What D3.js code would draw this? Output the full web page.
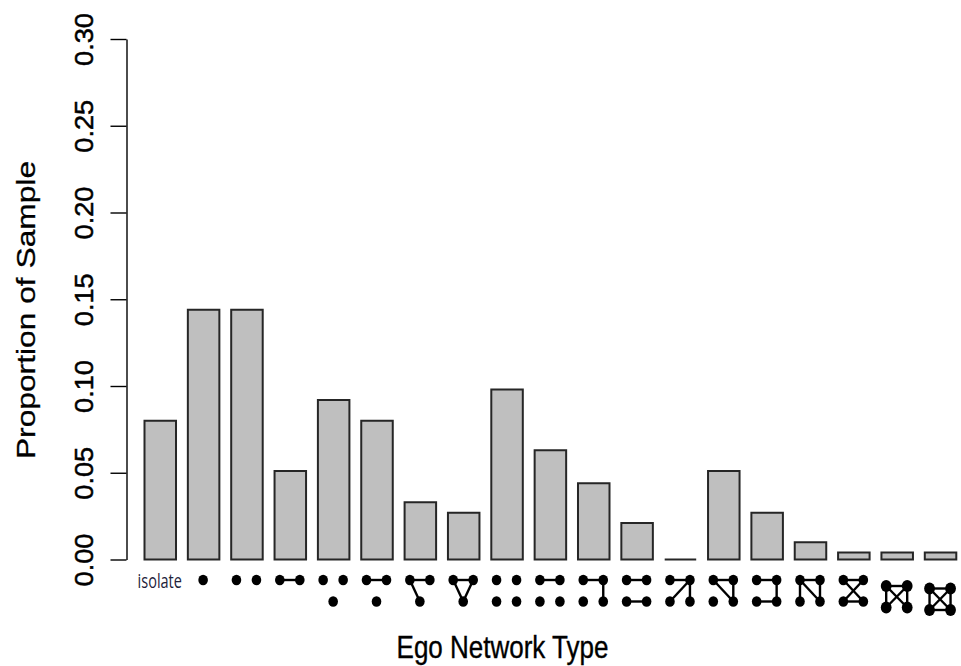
<!DOCTYPE html>
<html>
<head>
<meta charset="utf-8">
<script src="https://cdn.jsdelivr.net/npm/d3@7"></script>
<style>
  html, body { margin: 0; padding: 0; background: #fff; }
  svg { display: block; }
</style>
</head>
<body>
<div id="chart"></div>
<script>
// Ego network types, in the order they appear along the x axis
const networkTypes = [
  "isolate",
  "1 alter",
  "2 alters, no tie",
  "2 alters, tied",
  "3 alters, no ties",
  "3 alters, one tie",
  "3 alters, two ties",
  "3 alters, triangle",
  "4 alters, no ties",
  "4 alters, one tie",
  "4 alters, two-step path",
  "4 alters, two separate ties",
  "4 alters, star",
  "4 alters, triangle + isolate",
  "4 alters, three-step path",
  "4 alters, triangle + pendant",
  "4 alters, cycle",
  "4 alters, five ties",
  "4 alters, complete"
];

// Share of the sample with each ego network type
const proportions = [
  0.080, 0.144, 0.144, 0.051, 0.092, 0.080, 0.033, 0.027, 0.098, 0.063,
  0.044, 0.021, 0.000, 0.051, 0.027, 0.010, 0.004, 0.004, 0.004
];

// Number of alters in each ego network
const alterCounts = [0, 1, 2, 2, 3, 3, 3, 3, 4, 4, 4, 4, 4, 4, 4, 4, 4, 4, 4];

// Ties among alters (a, b = upper pair; c, d = lower alters)
const alterTies = [
  [],
  [],
  [],
  [["a", "b"]],
  [],
  [["a", "b"]],
  [["a", "b"], ["a", "c"]],
  [["a", "b"], ["a", "c"], ["b", "c"]],
  [],
  [["a", "b"]],
  [["a", "b"], ["b", "d"]],
  [["a", "b"], ["c", "d"]],
  [["b", "a"], ["b", "c"], ["b", "d"]],
  [["a", "b"], ["a", "d"], ["b", "d"]],
  [["a", "b"], ["b", "d"], ["d", "c"]],
  [["a", "b"], ["a", "c"], ["a", "d"], ["b", "d"]],
  [["a", "b"], ["c", "d"], ["a", "d"], ["b", "c"]],
  [["a", "b"], ["a", "c"], ["b", "d"], ["a", "d"], ["b", "c"]],
  [["a", "b"], ["a", "c"], ["b", "d"], ["a", "d"], ["b", "c"], ["c", "d"]]
];

const yTicks = [0.00, 0.05, 0.10, 0.15, 0.20, 0.25, 0.30];

const yLabel = "Proportion of Sample";
const xLabel = "Ego Network Type";

const width = 961, height = 666;
const svg = d3.select("#chart").append("svg")
  .attr("width", width).attr("height", height)
  .style("background", "#fff");

const x = d3.scaleBand()
  .domain(d3.range(networkTypes.length))
  .range([144.5, 956.3])
  .paddingInner(0.273)
  .paddingOuter(0);

const y = d3.scaleLinear().domain([0, 0.30]).range([559.5, 39]);

// Bars (drawn as paths so an empty category still shows its outline)
svg.append("g")
  .selectAll("path")
  .data(proportions)
  .join("path")
  .attr("d", (d, i) => {
    const p = d3.path();
    p.rect(x(i), y(d), x.bandwidth(), y(0) - y(d));
    return p.toString();
  })
  .attr("fill", "#bfbfbf")
  .attr("stroke", "#262626")
  .attr("stroke-width", 2);

// Y axis
const axisX = 126.5;
const yAxis = svg.append("g")
  .attr("transform", `translate(${axisX},0)`)
  .call(d3.axisLeft(y).tickValues(yTicks).tickFormat(d3.format(".2f"))
    .tickSizeInner(16).tickSizeOuter(0));
yAxis.select(".domain").attr("stroke", "#000").attr("stroke-width", 1.4);
yAxis.selectAll(".tick line").attr("stroke", "#000").attr("stroke-width", 1.4);
yAxis.selectAll(".tick text")
  .attr("x", null).attr("dy", null)
  .attr("text-anchor", "middle")
  .attr("fill", "#000")
  .attr("stroke", "#000")
  .attr("stroke-width", 0.5)
  .attr("font-family", "'Liberation Sans', Arial, sans-serif")
  .attr("font-size", 25)
  .attr("transform", `translate(${93 - axisX},0) rotate(-90) scale(1.09,1)`);

// Axis titles
svg.append("text")
  .attr("transform", "translate(35,310) rotate(-90) scale(1.27,1)")
  .attr("text-anchor", "middle")
  .attr("font-family", "'Liberation Sans', Arial, sans-serif")
  .attr("font-size", 25)
  .attr("fill", "#000")
  .attr("stroke", "#000")
  .attr("stroke-width", 0.3)
  .text(yLabel);

svg.append("text")
  .attr("transform", "translate(502.5,658) scale(1,1.23)")
  .attr("text-anchor", "middle")
  .attr("font-family", "'Liberation Sans', Arial, sans-serif")
  .attr("font-size", 26)
  .attr("fill", "#000")
  .attr("stroke", "#000")
  .attr("stroke-width", 0.3)
  .text(xLabel);

// Small network diagrams under each bar
const glyphs = svg.append("g");
networkTypes.forEach((name, i) => {
  const cx = x(i) + x.bandwidth() / 2 - 0.5;
  const n = alterCounts[i];
  const ties = alterTies[i];
  if (n === 0) {
    glyphs.append("text")
      .attr("transform", `translate(${cx},588) scale(1,1.35)`)
      .attr("text-anchor", "middle")
      .attr("font-family", "'Open Sans', 'Noto Sans', sans-serif")
      .attr("font-size", 14.5)
      .attr("fill", "#22223a")
      .text(name);
    return;
  }
  const dense = ties.length >= 5;
  const half = dense ? 10.5 : 10;
  const top = 580 + (dense ? 6 + (ties.length - 5) * 2.5 : 0);
  const rowGap = 21.5;
  let pos;
  if (n === 1) pos = { a: [0, 0] };
  else if (n === 2) pos = { a: [-half, 0], b: [half, 0] };
  else if (n === 3) pos = { a: [-half, 0], b: [half, 0], c: [0, rowGap] };
  else pos = { a: [-half, 0], b: [half, 0], c: [-half, rowGap], d: [half, rowGap] };

  const g = glyphs.append("g").attr("transform", `translate(${cx},${top})`);
  g.selectAll("line")
    .data(ties)
    .join("line")
    .attr("x1", d => pos[d[0]][0]).attr("y1", d => pos[d[0]][1])
    .attr("x2", d => pos[d[1]][0]).attr("y2", d => pos[d[1]][1])
    .attr("stroke", "#000")
    .attr("stroke-width", 2.4);
  g.selectAll("ellipse")
    .data(Object.values(pos))
    .join("ellipse")
    .attr("cx", d => d[0]).attr("cy", d => d[1])
    .attr("rx", dense ? 5.4 : 4.8)
    .attr("ry", dense ? 6 : 5.3)
    .attr("fill", "#000");
});
</script>
</body>
</html>
